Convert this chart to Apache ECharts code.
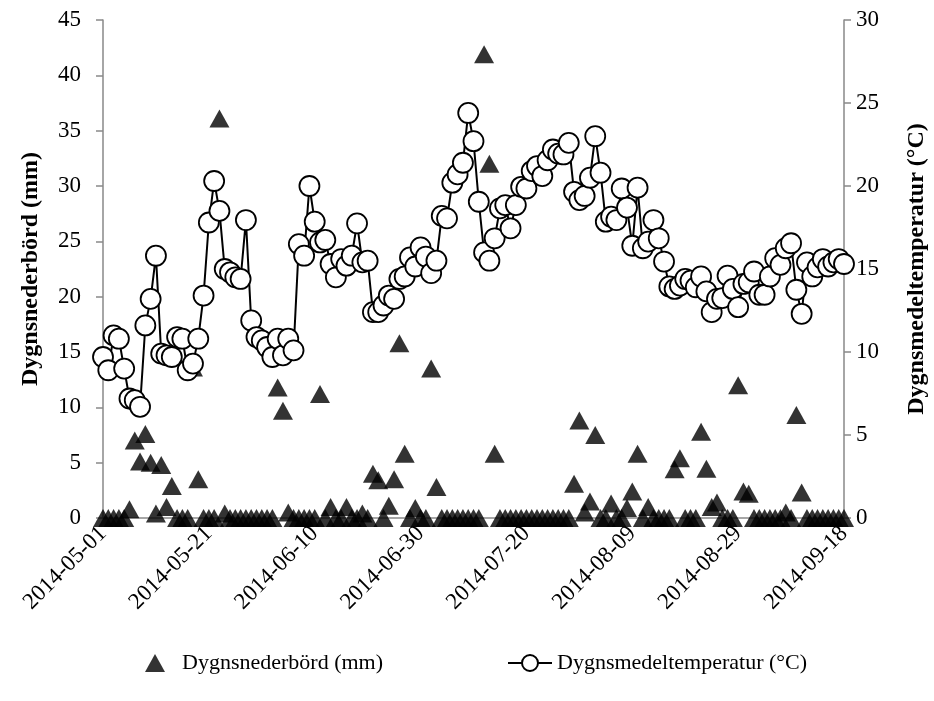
<!DOCTYPE html>
<html>
<head>
<meta charset="utf-8">
<script src="https://cdn.jsdelivr.net/npm/echarts@6/dist/echarts.min.js"></script>
<style>
  html, body { margin: 0; padding: 0; background: #fff; }
  #main { width: 934px; height: 701px; }
</style>
</head>
<body>
<div id="main"></div>
<script>
// dygnsdata 2014-05-01 .. 2014-09-18
const startDate = '2014-05-01'
const dayCount = 141

// nederbörd (mm), en per dag
const precip = [
  0, 0, 0, 0, 0, 0.8, 7.0, 5.1, 7.6, 5.0,
  0.4, 4.8, 1.0, 2.9, 0, 0, 0, 13.6, 3.5, 0,
  0, 0, 36.1, 0.4, 0, 0, 0, 0, 0, 0,
  0, 0, 0, 11.8, 9.7, 0.5, 0, 0, 0, 0,
  0, 11.2, 0, 1.0, 0, 0, 1.0, 0, 0, 0.4,
  0, 4.0, 3.4, 0, 1.1, 3.5, 15.8, 5.8, 0, 0.9,
  0, 0, 13.5, 2.8, 0, 0, 0, 0, 0, 0,
  0, 0, 41.9, 32.0, 5.8, 0, 0, 0, 0, 0,
  0, 0, 0, 0, 0, 0, 0, 0, 0, 3.1,
  8.8, 0.5, 1.5, 7.5, 0, 0, 1.3, 0, 0, 0.9,
  2.4, 5.8, 0, 1.0, 0, 0, 0, 0, 4.4, 5.4,
  0, 0, 0, 7.8, 4.45, 1.0, 1.4, 0, 0, 0,
  12.0, 2.4, 2.2, 0, 0, 0, 0, 0, 0, 0.5,
  0, 9.3, 2.3, 0, 0, 0, 0, 0, 0, 0,
  0
]

// medeltemperatur (°C)
const temp = [
  9.7, 8.9, 11.0, 10.8, 9.0, 7.2, 7.1, 6.7, 11.6, 13.2,
  15.8, 9.9, 9.8, 9.7, 10.9, 10.8, 8.9, 9.3, 10.8, 13.4,
  17.8, 20.3, 18.5, 15.0, 14.8, 14.5, 14.4, 17.95, 11.9, 10.9,
  10.7, 10.3, 9.7, 10.8, 9.8, 10.8, 10.1, 16.5, 15.8, 20.0,
  17.85, 16.6, 16.75, 15.3, 14.5, 15.6, 15.2, 15.8, 17.75, 15.4,
  15.5, 12.4, 12.4, 12.8, 13.4, 13.2, 14.4, 14.55, 15.7, 15.15,
  16.3, 15.75, 14.75, 15.5, 18.2, 18.05, 20.2, 20.7, 21.4, 24.4,
  22.7, 19.05, 16.0, 15.5, 16.85, 18.65, 18.85, 17.45, 18.85, 19.95,
  19.85, 20.9, 21.2, 20.6, 21.55, 22.2, 21.95, 21.9, 22.6, 19.65,
  19.15, 19.4, 20.5, 23.0, 20.8, 17.85, 18.15, 17.95, 19.85, 18.7,
  16.4, 19.9, 16.25, 16.65, 17.95, 16.85, 15.45, 13.95, 13.8, 14.0,
  14.4, 14.3, 13.9, 14.55, 13.65, 12.4, 13.2, 13.25, 14.6, 13.8,
  12.7, 14.1, 14.2, 14.85, 13.45, 13.45, 14.55, 15.65, 15.25, 16.25,
  16.55, 13.75, 12.3, 15.4, 14.55, 15.1, 15.6, 15.15, 15.4, 15.6,
  15.3
]

const leftName = 'Dygnsnederbörd (mm)'
const rightName = 'Dygnsmedeltemperatur (°C)'

function buildDates(start, n) {
  let out = []
  let t = Date.parse(start + 'T00:00:00Z')
  for (let i = 0; i < n; i++) {
    out.push(new Date(t + i * 86400000).toISOString().slice(0, 10))
  }
  return out
}
const dates = buildDates(startDate, dayCount)

const font = 'Liberation Serif'
const grey = '#898989'

let myChart = echarts.init(document.getElementById('main'))
let option = {
  backgroundColor: '#fff',
  animation: false,
  textStyle: { fontFamily: font, color: '#000' },
  grid: {
    left: 103, right: 90, top: 20, bottom: 183,
    containLabel: false,
    outerBoundsMode: 'none'
  },
  legend: [
    {
      data: [leftName],
      left: 140, top: 647,
      itemWidth: 20, itemHeight: 18,
      textStyle: { fontFamily: font, fontSize: 22, color: '#000', padding: [0, 0, 0, 12] }
    },
    {
      data: [rightName],
      left: 502, top: 647,
      itemWidth: 44, itemHeight: 20,
      textStyle: { fontFamily: font, fontSize: 22, color: '#000' }
    }
  ],
  xAxis: {
    type: 'category',
    data: dates,
    boundaryGap: false,
    axisLine: { lineStyle: { color: grey, width: 1.5 } },
    axisTick: { show: false },
    axisLabel: {
      interval: 19,
      rotate: 45,
      margin: 12,
      fontFamily: font,
      fontSize: 23,
      color: '#000'
    },
    splitLine: { show: false }
  },
  yAxis: [
    {
      type: 'value',
      min: 0, max: 45, interval: 5,
      name: leftName,
      nameLocation: 'middle',
      nameGap: 60,
      nameTextStyle: { fontFamily: font, fontSize: 24, fontWeight: 'bold', color: '#000' },
      axisLine: { show: true, lineStyle: { color: grey, width: 1.5 } },
      axisTick: { show: true, length: 7, lineStyle: { color: grey, width: 1.5 } },
      axisLabel: { margin: 22, fontFamily: font, fontSize: 23, color: '#000' },
      splitLine: { show: false }
    },
    {
      type: 'value',
      min: 0, max: 30, interval: 5,
      name: rightName,
      nameLocation: 'middle',
      nameGap: 61,
      nameRotate: 90,
      nameTextStyle: { fontFamily: font, fontSize: 24, fontWeight: 'bold', color: '#000' },
      axisLine: { show: true, lineStyle: { color: grey, width: 1.5 } },
      axisTick: { show: true, length: 7, lineStyle: { color: grey, width: 1.5 } },
      axisLabel: { margin: 12, fontFamily: font, fontSize: 23, color: '#000' },
      splitLine: { show: false }
    }
  ],
  series: [
    {
      name: leftName,
      type: 'scatter',
      yAxisIndex: 0,
      symbol: 'triangle',
      symbolSize: [20, 18],
      itemStyle: { color: '#000' },
      data: precip
    },
    {
      name: rightName,
      type: 'line',
      yAxisIndex: 1,
      symbol: 'circle',
      symbolSize: 20,
      showAllSymbol: true,
      lineStyle: { color: '#000', width: 2 },
      itemStyle: { color: '#fff', borderColor: '#000', borderWidth: 1.8 },
      data: temp
    }
  ]
}
myChart.setOption(option)
</script>
</body>
</html>
